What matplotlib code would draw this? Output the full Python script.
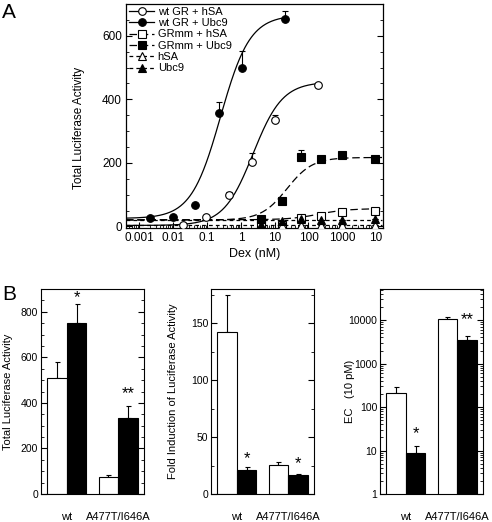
import numpy as np
import matplotlib
matplotlib.use("Agg")
import matplotlib.pyplot as plt
from matplotlib.ticker import MultipleLocator, FixedLocator, LogLocator, NullFormatter

plt.rcParams['font.family'] = ['Liberation Sans', 'DejaVu Sans']

# ---------------- Panel A data ----------------
wt_ubc9_x = [0.002, 0.01, 0.045, 0.23, 1.07, 20]
wt_ubc9_y = [27, 29, 68, 357, 498, 652]
wt_ubc9_e = [0, 0, 0, 35, 55, 25]

wt_hsa_x = [0.019, 0.09, 0.45, 2.1, 10.4, 190]
wt_hsa_y = [5, 29, 99, 204, 334, 445]
wt_hsa_e = [0, 0, 8, 26, 16, 3]

mm_x = [4, 16, 60, 240, 980, 9000]
mm_ubc9_y = [24, 81, 220, 212, 225, 212]
mm_ubc9_e = [0, 0, 20, 5, 8, 3]
mm_hsa_y = [4, 6, 26, 32, 45, 50]
mm_hsa_e = [0, 0, 4, 4, 3, 4]
hsa_y = [3, 3, 3, 3, 3, 3]
ubc9_y = [3, 16, 22, 19, 19, 24]

# fitted dose-response parameters: bottom, top, EC50, hill, x-range
fit_wt_ubc9 = [25, 665, 0.25, 1.0, 0.0004, 20]
fit_wt_hsa = [3, 455, 2.3, 1.0, 0.0004, 190]
fit_mm_ubc9 = [20, 217, 23, 1.15, 0.0004, 15000]
fit_mm_hsa = [21, 56, 200, 1.0, 0.0004, 15000]
fit_hsa = [3, 3, 1, 1.0, 0.0004, 15000]
fit_ubc9 = [20, 20, 1, 1.0, 0.0004, 15000]

xtick_vals = [0.001, 0.01, 0.1, 1, 10, 100, 1000, 10000]
xtick_labels = ['0.001', '0.01', '0.1', '1', '10', '100', '1000', '10']

# ---------------- Panel B data ----------------
groups = ['wt', 'A477T/I646A']
tot_white = [510, 75]
tot_white_e = [70, 10]
tot_black = [750, 335]
tot_black_e = [82, 52]
fold_white = [142, 25.5]
fold_white_e = [33, 3]
fold_black = [21, 17]
fold_black_e = [3, 0.8]
ec_white = [210, 10500]
ec_white_e = [78, 1200]
ec_black = [9.0, 3550]
ec_black_e = [3.9, 800]


def hill(p, x):
    b, t, ec, n = p[0], p[1], p[2], p[3]
    return b + (t - b) / (1 + (ec / x) ** n)


W, H = 492, 522
fig = plt.figure(figsize=(W / 100, H / 100), dpi=100)


def rect(l, t, r, b):
    return [l / W, 1 - b / H, (r - l) / W, (b - t) / H]


# ---------------- Panel A ----------------
axA = fig.add_axes(rect(126, 4, 383, 228))
axA.set_xscale('log')
solid = '-'
ldash = (0, (6, 3))
sdash = (0, (3, 2.5))
series = [
    ('wt GR + hSA', wt_hsa_x, wt_hsa_y, wt_hsa_e, fit_wt_hsa, 'o', 'white', solid),
    ('wt GR + Ubc9', wt_ubc9_x, wt_ubc9_y, wt_ubc9_e, fit_wt_ubc9, 'o', 'black', solid),
    ('GRmm + hSA', mm_x, mm_hsa_y, mm_hsa_e, fit_mm_hsa, 's', 'white', ldash),
    ('GRmm + Ubc9', mm_x, mm_ubc9_y, mm_ubc9_e, fit_mm_ubc9, 's', 'black', ldash),
    ('hSA', mm_x, hsa_y, [0] * 6, fit_hsa, '^', 'white', sdash),
    ('Ubc9', mm_x, ubc9_y, [0] * 6, fit_ubc9, '^', 'black', sdash),
]
handles = []
for lab, xs, ys, es, fp, mk, fc, ls in series:
    xx = np.logspace(np.log10(fp[4]), np.log10(fp[5]), 300)
    axA.plot(xx, hill(fp, xx), color='black', lw=0.9, ls=ls, zorder=2)
    axA.errorbar(xs, ys, yerr=[[0] * len(es), es], fmt='none', ecolor='black',
                 elinewidth=0.8, capsize=2, capthick=0.8, zorder=3)
    axA.plot(xs, ys, ls='none', marker=mk, ms=5.5, mfc=fc, mec='black', mew=0.8, zorder=4)
    h, = axA.plot([], [], color='black', lw=0.9, ls=ls, marker=mk, ms=5.5,
                  mfc=fc, mec='black', mew=0.8, label=lab)
    handles.append(h)

axA.set_xlim(0.0004, 16000)
axA.set_ylim(-5, 700)
axA.xaxis.set_major_locator(FixedLocator(xtick_vals))
axA.set_xticklabels(xtick_labels)
axA.xaxis.set_minor_locator(LogLocator(base=10, subs=np.arange(2, 10), numticks=20))
axA.xaxis.set_minor_formatter(NullFormatter())
axA.yaxis.set_major_locator(MultipleLocator(200))
axA.yaxis.set_minor_locator(MultipleLocator(50))
axA.tick_params(axis='both', which='both', direction='in', labelsize=8.5)
axA.tick_params(axis='y', which='both', right=True)
axA.tick_params(which='major', length=4, width=0.8, pad=3)
axA.tick_params(which='minor', length=2, width=0.6)
axA.set_xlabel('Dex (nM)', fontsize=9, labelpad=3)
axA.set_ylabel('Total Luciferase Activity', fontsize=8.5)
axA.yaxis.set_label_coords(-0.16, 0.445)
axA.legend(handles=handles, loc='upper left', frameon=False, fontsize=8,
           handlelength=2.3, handletextpad=0.3, labelspacing=0.12,
           borderpad=0.1, borderaxespad=0.15)
for s in axA.spines.values():
    s.set_linewidth(0.9)

fig.text(2 / W, 1 - 3 / H, 'A', fontsize=15, va='top', ha='left')
fig.text(2 / W, 1 - 285 / H, 'B', fontsize=15, va='top', ha='left')

# ---------------- Panel B ----------------
bw = 0.38
gx = np.arange(len(groups))


def bar_panel(ax, wv, we, bv, be):
    ax.bar(gx - bw / 2, wv, width=bw, color='white', edgecolor='black', lw=0.8, zorder=2)
    ax.bar(gx + bw / 2, bv, width=bw, color='black', edgecolor='black', lw=0.8, zorder=2)
    ax.errorbar(gx - bw / 2, wv, yerr=[[0] * len(we), we], fmt='none', ecolor='black',
                elinewidth=0.8, capsize=1.8, capthick=0.8, zorder=1)
    ax.errorbar(gx + bw / 2, bv, yerr=[[0] * len(be), be], fmt='none', ecolor='black',
                elinewidth=0.8, capsize=1.8, capthick=0.8, zorder=1)
    ax.set_xlim(-0.5, 1.5)
    ax.set_xticks(gx)
    ax.set_xticklabels(groups, fontsize=8)
    ax.tick_params(axis='x', length=0, pad=13)
    ax.tick_params(axis='y', which='both', direction='in', right=True, labelsize=7.5, pad=2)
    ax.tick_params(axis='y', which='major', length=4, width=0.8)
    ax.tick_params(axis='y', which='minor', length=2, width=0.6)
    for s in ax.spines.values():
        s.set_linewidth(0.8)


ax1 = fig.add_axes(rect(41, 289, 144, 494))
bar_panel(ax1, tot_white, tot_white_e, tot_black, tot_black_e)
ax1.set_ylim(0, 900)
ax1.yaxis.set_major_locator(MultipleLocator(200))
ax1.yaxis.set_minor_locator(MultipleLocator(50))
ax1.set_ylabel('Total Luciferase Activity', fontsize=8)
ax1.yaxis.set_label_coords(-0.272, 0.5)
ax1.text(bw / 2, 862, '*', ha='center', va='center', fontsize=12)
ax1.text(1 + bw / 2, 440, '**', ha='center', va='center', fontsize=12)

ax2 = fig.add_axes(rect(211, 289, 314, 494))
bar_panel(ax2, fold_white, fold_white_e, fold_black, fold_black_e)
ax2.set_ylim(0, 180)
ax2.yaxis.set_major_locator(MultipleLocator(50))
ax2.yaxis.set_minor_locator(MultipleLocator(25))
ax2.set_ylabel('Fold Induction of Luciferase Activity', fontsize=8)
ax2.yaxis.set_label_coords(-0.32, 0.5)
ax2.text(bw / 2, 31, '*', ha='center', va='center', fontsize=12)
ax2.text(1 + bw / 2, 27, '*', ha='center', va='center', fontsize=12)

ax3 = fig.add_axes(rect(380, 289, 483, 494))
ax3.set_yscale('log')
bar_panel(ax3, ec_white, ec_white_e, ec_black, ec_black_e)
ax3.set_ylim(1, 52000)
ax3.yaxis.set_major_locator(FixedLocator([1, 10, 100, 1000, 10000]))
ax3.set_yticklabels(['1', '10', '100', '1000', '10000'])
ax3.yaxis.set_minor_locator(LogLocator(base=10, subs=np.arange(2, 10), numticks=20))
ax3.yaxis.set_minor_formatter(NullFormatter())
ax3.set_ylabel('EC   (10 pM)', fontsize=8)
ax3.yaxis.set_label_coords(-0.243, 0.5)
ax3.text(bw / 2, 24, '*', ha='center', va='center', fontsize=12)
ax3.text(1 + bw / 2, 10500, '**', ha='center', va='center', fontsize=12)

fig.savefig('out.png', dpi=100)
